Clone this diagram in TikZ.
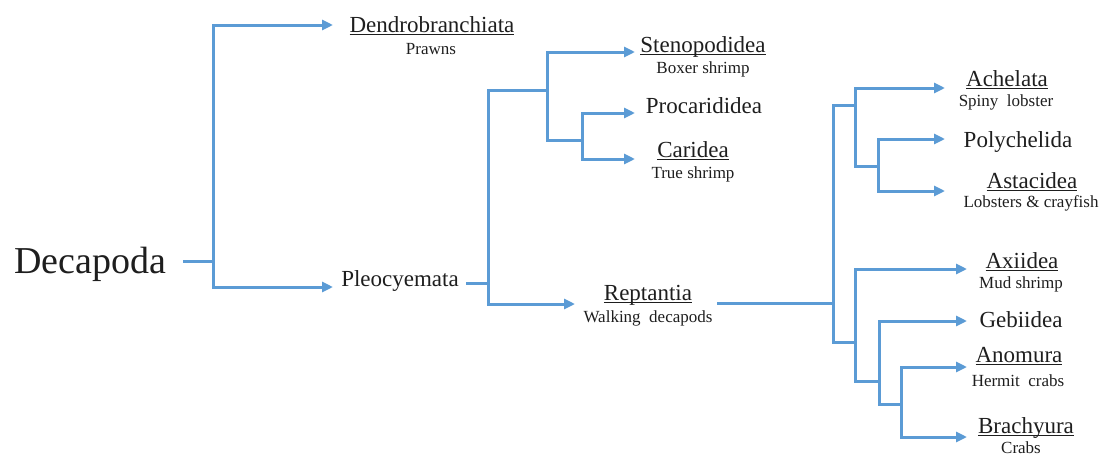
\documentclass[tikz,border=0pt]{standalone}
\usepackage{fontspec}
\setmainfont{Liberation Serif}
\usetikzlibrary{arrows.meta}
\definecolor{brblue}{HTML}{5B9BD5}
\definecolor{txt}{HTML}{1E1E1E}
\newcommand{\ulx}[1]{\setbox0\hbox{#1}\rlap{\rule[-3.2pt]{\wd0}{1.5pt}}\box0}
\begin{document}
\begin{tikzpicture}[x=1pt,y=-1pt,
  br/.style={draw=brblue,line width=3pt},
  arr/.style={br,-{Triangle[length=11pt,width=10pt]}},
  mainlbl/.style={font=\fontsize{23}{26}\selectfont,text=txt,inner sep=0pt,anchor=base},
  sublbl/.style={font=\fontsize{17}{20}\selectfont,text=txt,inner sep=0pt,anchor=base}]
\useasboundingbox (0,0) rectangle (1103,455);
% text nodes
\node[font=\fontsize{38}{44}\selectfont,text=txt,inner sep=0pt,anchor=base] (dec) at (90,273) {Decapoda};
\node[mainlbl] (den) at (432,32) {\ulx{Dendrobranchiata}};
\node[sublbl] (prawns) at (431,54) {Prawns};
\node[mainlbl] (ple) at (400,286) {Pleocyemata};
\node[mainlbl] (ste) at (703,52) {\ulx{Stenopodidea}};
\node[sublbl] (boxer) at (703,73) {Boxer shrimp};
\node[mainlbl] (pro) at (704,113) {Procarididea};
\node[mainlbl] (car) at (693,157) {\ulx{Caridea}};
\node[sublbl] (trues) at (693,178) {True shrimp};
\node[mainlbl] (rep) at (648,300) {\ulx{Reptantia}};
\node[sublbl] (walk) at (648,322) {Walking\ \ decapods};
\node[mainlbl] (ach) at (1007,86) {\ulx{Achelata}};
\node[sublbl] (spiny) at (1006,106) {Spiny\ \ lobster};
\node[mainlbl] (pol) at (1018,147) {Polychelida};
\node[mainlbl] (ast) at (1032,188) {\ulx{Astacidea}};
\node[sublbl] (lob) at (1031,207) {Lobsters \& crayfish};
\node[mainlbl] (axi) at (1022,268) {\ulx{Axiidea}};
\node[sublbl] (mud) at (1021,288) {Mud shrimp};
\node[mainlbl] (geb) at (1021,327) {Gebiidea};
\node[mainlbl] (ano) at (1019,362) {\ulx{Anomura}};
\node[sublbl] (her) at (1018,386) {Hermit\ \ crabs};
\node[mainlbl] (bra) at (1026,433) {\ulx{Brachyura}};
\node[sublbl] (crabs) at (1021,453) {Crabs};
% connector end points and junctions
\coordinate (d0) at (183,261);
\coordinate (j1) at (213,261);
\coordinate (aDen) at (333,25);
\coordinate (aPle) at (333,287);
\coordinate (p0) at (466,283);
\coordinate (j2) at (488,283);
\coordinate (j3) at (547,90);
\coordinate (j4) at (582,140);
\coordinate (aSte) at (635,52);
\coordinate (aPro) at (635,113);
\coordinate (aCar) at (635,159);
\coordinate (aRep) at (575,304);
\coordinate (r0) at (717,303);
\coordinate (j5) at (833,303);
\coordinate (j6) at (855,105);
\coordinate (j7) at (855,342);
\coordinate (j8) at (878,166);
\coordinate (j9) at (879,381);
\coordinate (j10) at (901,404);
\coordinate (aAch) at (945,88);
\coordinate (aPol) at (945,139);
\coordinate (aAst) at (945,191);
\coordinate (aAxi) at (967,269);
\coordinate (aGeb) at (967,321);
\coordinate (aAno) at (967,367);
\coordinate (aBra) at (967,437);
% connectors
\draw[br] (d0) -- (j1);
\draw[arr] (j1) |- (aDen);
\draw[arr] (j1) |- (aPle);
\draw[br] (p0) -- (j2);
\draw[br] (j2) |- (j3);
\draw[arr] (j2) |- (aRep);
\draw[arr] (j3) |- (aSte);
\draw[br] (j3) |- (j4);
\draw[arr] (j4) |- (aPro);
\draw[arr] (j4) |- (aCar);
\draw[br] (r0) -- (j5);
\draw[br] (j5) |- (j6);
\draw[br] (j5) |- (j7);
\draw[arr] (j6) |- (aAch);
\draw[br] (j6) |- (j8);
\draw[arr] (j8) |- (aPol);
\draw[arr] (j8) |- (aAst);
\draw[arr] (j7) |- (aAxi);
\draw[br] (j7) |- (j9);
\draw[arr] (j9) |- (aGeb);
\draw[br] (j9) |- (j10);
\draw[arr] (j10) |- (aAno);
\draw[arr] (j10) |- (aBra);
\end{tikzpicture}
\end{document}
